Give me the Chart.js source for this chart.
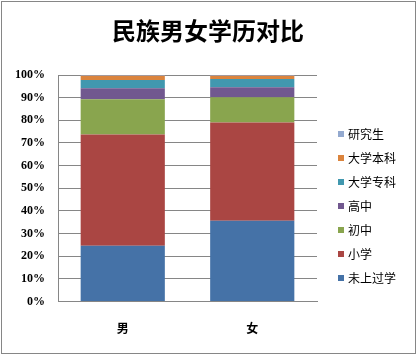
<!DOCTYPE html>
<html>
<head>
<meta charset="utf-8">
<script src="https://cdn.jsdelivr.net/npm/chart.js@4.4.0/dist/chart.umd.min.js"></script>
<style>
  html, body { margin: 0; padding: 0; background: #fff; }
  #wrap { width: 417px; height: 356px; position: relative; }
</style>
</head>
<body>
<div id="wrap"><canvas id="c" width="417" height="356"></canvas></div>
<script>
const chartTitle = '民族男女学历对比';
const categories = ['男', '女'];
const seriesNames = ['未上过学', '小学', '初中', '高中', '大学专科', '大学本科', '研究生'];
const noSchool   = [24.7, 35.7];
const primary    = [49.0, 43.3];
const juniorHigh = [15.6, 11.2];
const seniorHigh = [4.9, 4.4];
const college    = [3.6, 3.6];
const bachelor   = [1.9, 1.5];
const graduate   = [0.3, 0.3];
const yTicks = [0, 10, 20, 30, 40, 50, 60, 70, 80, 90, 100];
const colors = ['#4572A7', '#AA4643', '#89A54E', '#71588F', '#4198AF', '#DB843D', '#93A9CF'];

const seriesValues = [noSchool, primary, juniorHigh, seniorHigh, college, bachelor, graduate];

const frame = {
  id: 'frame',
  beforeDraw(chart) {
    const ctx = chart.ctx;
    ctx.save();
    ctx.fillStyle = '#fff';
    ctx.fillRect(0, 0, chart.width, chart.height);
    ctx.restore();
  },
  afterDraw(chart) {
    const ctx = chart.ctx;
    ctx.save();
    ctx.strokeStyle = '#868686';
    ctx.lineWidth = 1;
    ctx.strokeRect(1.5, 1.5, 414, 352);
    // title
    ctx.fillStyle = '#000';
    ctx.font = 'bold 24px "Noto Sans CJK SC"';
    ctx.textAlign = 'center';
    ctx.textBaseline = 'middle';
    ctx.fillText(chartTitle, 208, 31);
    // legend (reverse order)
    const ds = chart.data.datasets;
    ctx.font = '12px "Noto Sans CJK SC"';
    ctx.textBaseline = 'middle';
    ctx.textAlign = 'left';
    const startY = 134, step = 24;
    for (let i = ds.length - 1, k = 0; i >= 0; i--, k++) {
      const y = startY + k * step;
      ctx.fillStyle = ds[i].backgroundColor;
      ctx.fillRect(338, y - 3, 6, 6);
      ctx.fillStyle = '#000';
      ctx.fillText(ds[i].label, 348, y);
    }
    ctx.restore();
  }
};

new Chart(document.getElementById('c'), {
  type: 'bar',
  data: {
    labels: categories,
    datasets: seriesNames.map((name, i) => ({
      label: name,
      data: seriesValues[i],
      backgroundColor: colors[i],
      borderWidth: 0,
      barPercentage: 0.65,
      categoryPercentage: 1.0
    }))
  },
  options: {
    responsive: false,
    animation: false,
    layout: { padding: { left: 2, right: 100, top: 75, bottom: 0 } },
    plugins: {
      legend: { display: false },
      tooltip: { enabled: false },
      title: { display: false }
    },
    scales: {
      x: {
        stacked: true,
        grid: { display: false, drawTicks: false },
        border: { display: true, color: '#868686', width: 1 },
        ticks: {
          color: '#000',
          padding: 20,
          font: { family: '"Noto Sans CJK SC"', size: 12, weight: 'bold' }
        }
      },
      y: {
        stacked: true,
        min: 0,
        max: 100,
        afterBuildTicks(axis) { axis.ticks = yTicks.map(v => ({ value: v })); },
        grid: { color: '#868686', lineWidth: 1, drawTicks: false },
        border: { display: true, color: '#868686', width: 1 },
        ticks: {
          color: '#000',
          padding: 13,
          callback: v => v + '%',
          font: { family: '"Liberation Serif"', size: 12, weight: 'bold' }
        }
      }
    }
  },
  plugins: [frame]
});
</script>
</body>
</html>
